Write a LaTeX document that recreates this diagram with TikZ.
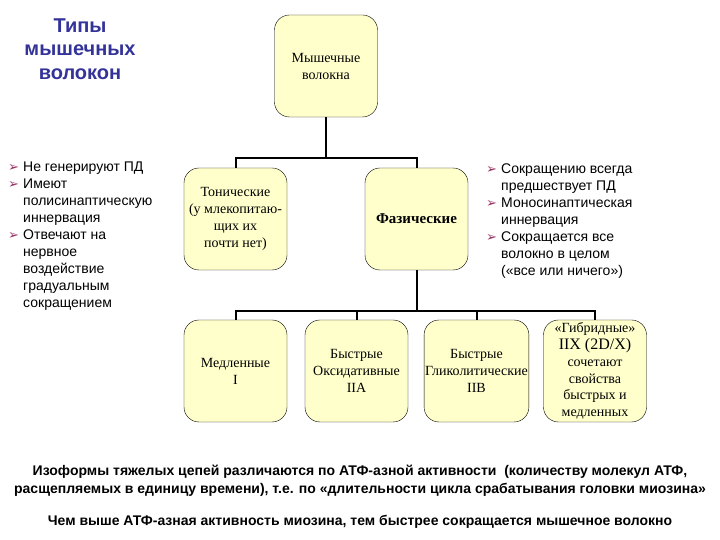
\documentclass[tikz,border=0pt]{standalone}
\usepackage{fontspec}
\setmainfont{Liberation Serif}
\setsansfont{Liberation Sans}
\newfontfamily\dejavu{DejaVu Sans}
\usetikzlibrary{positioning}

\definecolor{boxfill}{HTML}{FFFFCC}
\definecolor{titleblue}{HTML}{333399}
\definecolor{bulred}{HTML}{993366}

\newcommand{\arr}{\makebox[15pt][l]{\dejavu\fontsize{13}{13}\selectfont\color{bulred}➢}}
\newcommand{\ind}{\hspace*{15pt}}

\tikzset{
  fibbox/.style={draw, thin, fill=boxfill, rounded corners=15pt,
    minimum width=103pt, minimum height=102pt, inner sep=1pt,
    align=center, font=\fontsize{14}{17}\selectfont},
  conn/.style={line width=2pt},
  bullets/.style={align=left, inner sep=0pt, anchor=north west,
    font=\sffamily\fontsize{14}{17}\selectfont},
  bottomtext/.style={align=center, font=\sffamily\bfseries\fontsize{14}{18}\selectfont},
}

\begin{document}
\begin{tikzpicture}[x=1pt, y=1pt]
    \useasboundingbox (0,0) rectangle (720,540);

    % заголовок
    \node[align=center, text=titleblue, font=\sffamily\bfseries\fontsize{20}{23.5}\selectfont] (title) at (80,491)
        {Типы\\мышечных\\волокон};

    % блоки дерева
    \node[fibbox] (fib) at (326,474) {Мышечные\\волокна};
    \node[fibbox] (ton) at (235.5,321) {Тонические\\(у млекопитаю-\\щих их\\почти нет)};
    \node[fibbox, font=\bfseries\fontsize{15}{17}\selectfont] (phas) at (416.5,321) {Фазические};

    \node[fibbox] (slow) at (235.5,169) {Медленные\\I};
    \node[fibbox] (fox) at (356.5,169) {Быстрые\\Оксидативные\\IIA};
    \node[fibbox] (fgl) at (476.5,169) {Быстрые\\Гликолитические\\IIB};
    \node[fibbox, font=\fontsize{14}{16.8}\selectfont] (hyb) at (595,169)
        {«Гибридные»\\{\fontsize{16}{17}\selectfont IIX (2D/X)}\\сочетают\\свойства\\быстрых и\\медленных};

    % шины
    \coordinate (bus1) at (0,382);
    \coordinate (bus2) at (0,229);

    % соединения
    \draw[conn] (fib.south) -- (fib.south |- bus1);
    \draw[conn] (ton.north) -- (ton.north |- bus1) -| (phas.north);
    \draw[conn] (phas.south) -- (phas.south |- bus2);
    \draw[conn] (slow.north) -- (slow.north |- bus2) -| (hyb.north);
    \foreach \b in {fox, fgl}
        \draw[conn] (\b.north) -- (\b.north |- bus2);

    % свойства тонических волокон
    \node[bullets] (tonprops) at (8,378)
        {\arr Не генерируют ПД\\
         \arr Имеют\\
         \ind полисинаптическую\\
         \ind иннервация\\
         \arr Отвечают на\\
         \ind нервное\\
         \ind воздействие\\
         \ind градуальным\\
         \ind сокращением};

    % свойства фазических волокон
    \node[bullets] (phasprops) at (486,376)
        {\arr Сокращению всегда\\
         \ind предшествует ПД\\
         \arr Моносинаптическая\\
         \ind иннервация\\
         \arr Сокращается все\\
         \ind волокно в целом\\
         \ind («все или ничего»)};

    % подписи внизу
    \node[bottomtext] (isoform) at (360,59)
        {Изоформы тяжелых цепей различаются по АТФ-азной активности\ \ (количеству молекул АТФ,\\
         расщепляемых в единицу времени), т.е. по «длительности цикла срабатывания головки миозина»};
    \node[bottomtext, below=12pt of isoform] (atpase)
        {Чем выше АТФ-азная активность миозина, тем быстрее сокращается мышечное волокно};
\end{tikzpicture}
\end{document}
